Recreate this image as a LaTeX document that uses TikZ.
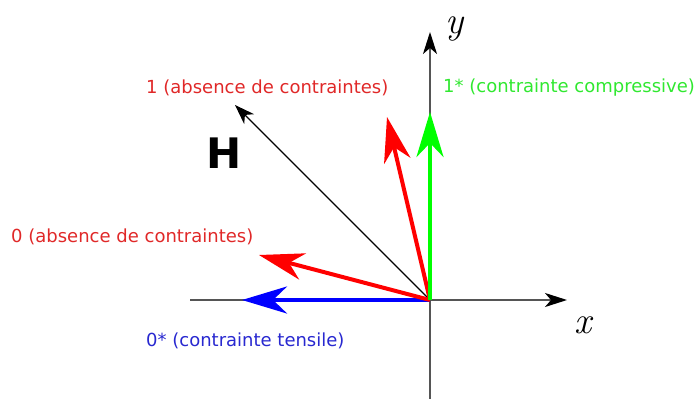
\documentclass[tikz,border=0pt]{standalone}
\usepackage{fontspec}
\setsansfont{DejaVu Sans}
\usepackage{tikz}
\usetikzlibrary{arrows.meta}
\definecolor{vred}{HTML}{FF0000}
\definecolor{vgreen}{HTML}{00FF00}
\definecolor{vblue}{HTML}{0000FF}
\definecolor{tred}{HTML}{E02828}
\definecolor{tgreen}{HTML}{30E830}
\definecolor{tblue}{HTML}{2828D0}
\definecolor{axisgray}{HTML}{555555}

\begin{document}
\begin{tikzpicture}[
    x=1pt, y=-1pt,
    font=\sffamily\fontsize{18}{21}\selectfont,
    axis/.style={draw=axisgray, line width=2pt,
                 -{Stealth[length=22pt, width=14pt, inset=6pt, fill=black, color=black]}},
    vec/.style={line width=4pt,
                -{Stealth[length=45pt, width=27pt, inset=14pt]}},
    hvec/.style={draw=black, line width=1.2pt,
                 -{Stealth[length=20pt, width=14pt, inset=6pt]}},
    lbl/.style={anchor=base west, inner sep=0pt},
    axlbl/.style={inner sep=0pt, anchor=base, font=\rmfamily\itshape\fontsize{38}{40}\selectfont},
  ]
    \useasboundingbox (0,0) rectangle (699,399);

    % origin and free ends
    \coordinate (O)   at (430,300);
    \coordinate (xl)  at (190,300);
    \coordinate (xr)  at (567,300);
    \coordinate (yb)  at (430,399);
    \coordinate (yt)  at (430,32);
    \coordinate (h)   at (235,105);
    \coordinate (r1)  at (387,117);
    \coordinate (g1)  at (430,112);
    \coordinate (r0)  at (259,255);
    \coordinate (b0)  at (242,300);

    % axes
    \draw[draw=axisgray, line width=2pt] (O) -- (xl);
    \draw[draw=axisgray, line width=2pt] (O) -- (yb);
    \draw[axis] (O) -- (xr);
    \draw[axis] (O) -- (yt);
    \node[axlbl] (xlab) at (583,333) {x};
    \node[axlbl] (ylab) at (455,33) {y};

    % vectors
    \draw[hvec] (O) -- (h);
    \draw[vec, vblue]  (O) -- (b0);
    \draw[vec, vred]   (O) -- (r0);
    \draw[vec, vred]   (O) -- (r1);
    \draw[vec, vgreen] (O) -- (g1);

    % labels
    \node[font=\sffamily\fontsize{42}{44}\selectfont\bfseries] (hlab) at (224,153) {H};
    \node[lbl, text=tred]   (l1)  at (146,93)  {1 (absence de contraintes)};
    \node[lbl, text=tgreen] (l1s) at (443,92)  {1* (contrainte compressive)};
    \node[lbl, text=tred]   (l0)  at (11,242)  {0 (absence de contraintes)};
    \node[lbl, text=tblue]  (l0s) at (146,346) {0* (contrainte tensile)};
\end{tikzpicture}
\end{document}
